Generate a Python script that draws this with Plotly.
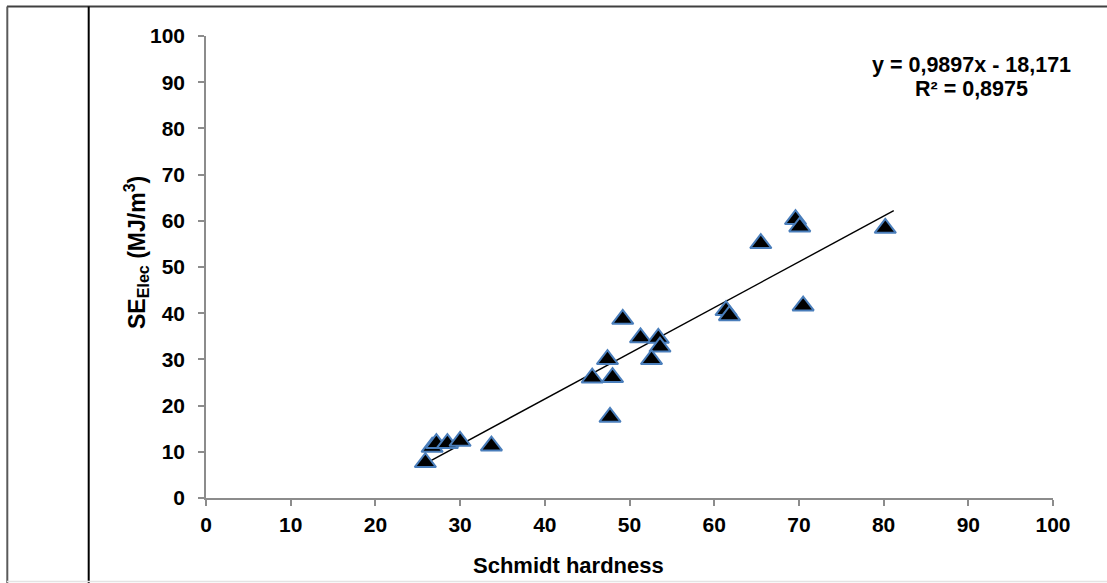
import plotly.graph_objects as go

# ---- data ----
schmidt_hardness = [25.9, 26.7, 27.2, 28.5, 30.0, 33.7,
                    49.2, 51.3, 53.4, 53.6, 52.6, 47.4, 45.6, 48.0, 47.7,
                    69.6, 70.1, 65.5, 80.2, 61.4, 61.8, 70.5]
se_elec = [7.7, 11.0, 11.8, 11.8, 12.3, 11.3,
           38.7, 34.7, 34.6, 32.7, 30.0, 30.0, 26.0, 26.1, 17.5,
           60.3, 58.7, 55.1, 58.4, 40.6, 39.5, 41.6]
trend_slope = 0.9897
trend_intercept = -18.171
trend_r2 = 0.8975
trend_x_end = 81.2
axis_ticks = [0, 10, 20, 30, 40, 50, 60, 70, 80, 90, 100]

W, H = 1107, 583
ML, MR, MT, MB = 206, 54, 36, 85
PW, PH = W - ML - MR, H - MT - MB


def px(x):
    return (x - ML) / PW


def py(y):
    return (H - MB - y) / PH


FONT = "Liberation Sans, Arial, sans-serif"
AXIS_GRAY = "#8c8c8c"

trend_x = [min(schmidt_hardness), trend_x_end]
trend_y = [trend_slope * v + trend_intercept for v in trend_x]

fig = go.Figure()
fig.add_trace(go.Scatter(
    x=trend_x, y=trend_y, mode="lines",
    line=dict(color="black", width=1.4), showlegend=False, hoverinfo="skip"))
fig.add_trace(go.Scatter(
    x=schmidt_hardness, y=se_elec, mode="markers",
    marker=dict(symbol="triangle-up", size=18.5, color="black",
                line=dict(color="#4a7ebb", width=2)),
    showlegend=False))

axis_common = dict(
    range=[0, 100], tickvals=axis_ticks, ticks="outside", ticklen=6,
    tickcolor=AXIS_GRAY, tickwidth=1.5, showline=True, linecolor=AXIS_GRAY,
    linewidth=1.5, showgrid=False, zeroline=False,
    tickfont=dict(family=FONT, size=21, color="black", weight="bold"))

fig.update_layout(
    width=W, height=H,
    margin=dict(l=ML, r=MR, t=MT, b=MB),
    paper_bgcolor="white", plot_bgcolor="white",
    xaxis=dict(**axis_common, ticklabelstandoff=1),
    yaxis=dict(**axis_common, ticklabelstandoff=9),
)

# axis titles
fig.add_annotation(
    xref="paper", yref="paper", x=px(568), y=py(565),
    text="Schmidt hardness", showarrow=False, xanchor="center", yanchor="middle",
    font=dict(family=FONT, size=22, color="black", weight="bold"))
fig.add_annotation(
    xref="paper", yref="paper", x=px(136), y=py(253),
    text="SE<sub>Elec</sub> (MJ/m<sup>3</sup>)", textangle=-90, showarrow=False,
    xanchor="center", yanchor="middle",
    font=dict(family=FONT, size=23, color="black", weight="bold"))

# trendline equation
fig.add_annotation(
    xref="paper", yref="paper", x=px(971), y=py(65),
    text=f"y = {str(trend_slope).replace('.', ',')}x - {str(-trend_intercept).replace('.', ',')}",
    showarrow=False, xanchor="center", yanchor="middle",
    font=dict(family=FONT, size=21.5, color="black", weight="bold"))
fig.add_annotation(
    xref="paper", yref="paper", x=px(971), y=py(89),
    text=f"R² = {str(trend_r2).replace('.', ',')}",
    showarrow=False, xanchor="center", yanchor="middle",
    font=dict(family=FONT, size=21.5, color="black", weight="bold"))

# surrounding frame (table cell borders)
frame = [
    dict(x0=px(7), x1=px(W + 2), y0=py(6.5), y1=py(6.5), color="#404040", width=2),
    dict(x0=px(7.3), x1=px(7.3), y0=py(6.5), y1=py(H + 2), color="#5a5a5a", width=2),
    dict(x0=px(88.7), x1=px(88.7), y0=py(6.5), y1=py(H + 2), color="black", width=2),
    dict(x0=px(7), x1=px(W + 2), y0=py(581.5), y1=py(581.5), color="#e4e4e4", width=1.5),
]
for f in frame:
    fig.add_shape(type="line", xref="paper", yref="paper",
                  x0=f["x0"], x1=f["x1"], y0=f["y0"], y1=f["y1"],
                  line=dict(color=f["color"], width=f["width"]))

fig.write_html(
    "out.html",
    config={"displayModeBar": False},
    post_script="document.body.style.margin='0';document.body.style.overflow='hidden';",
)
